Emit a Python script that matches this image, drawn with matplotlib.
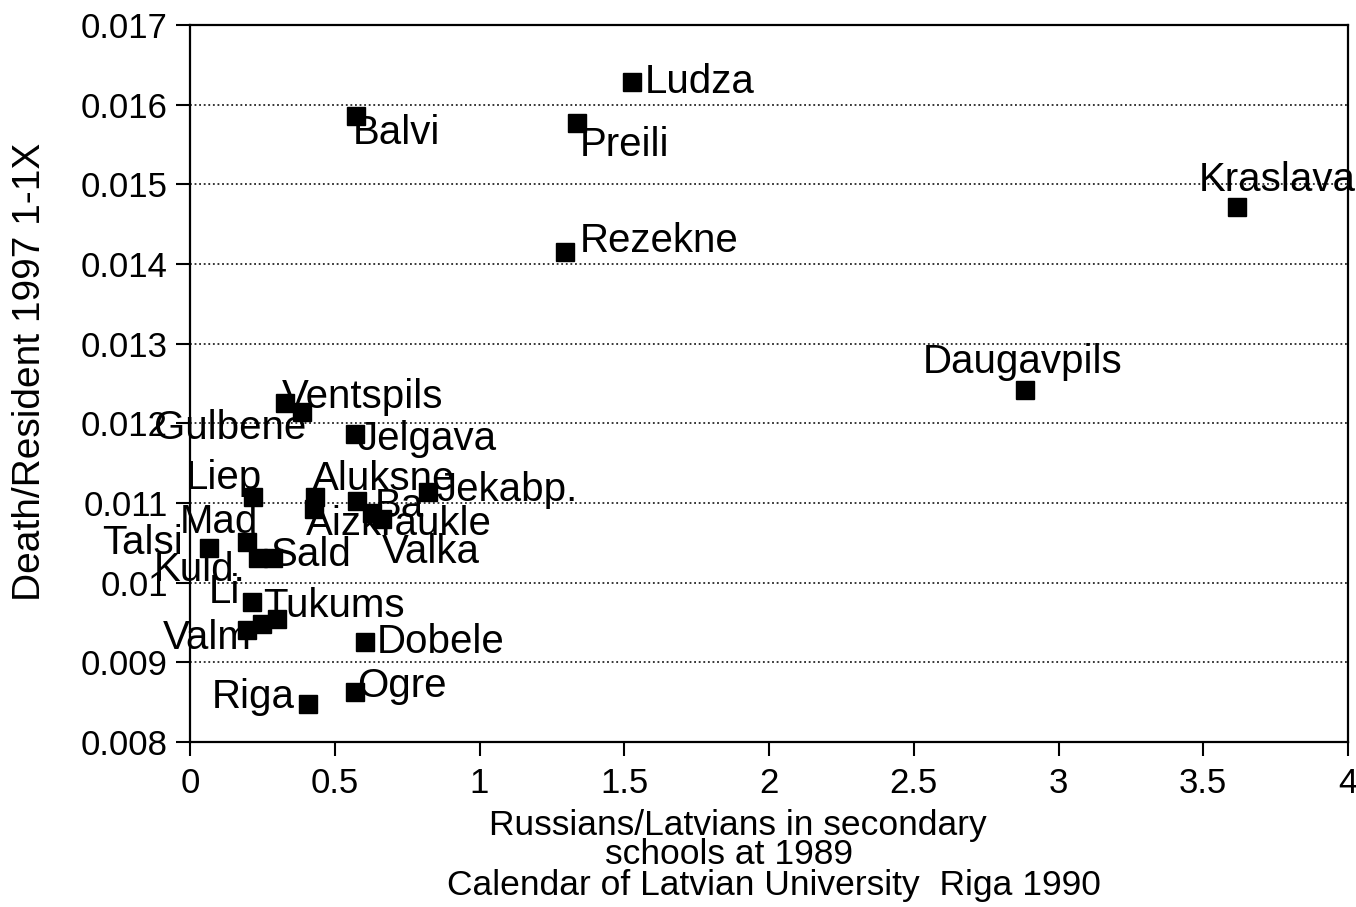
import matplotlib.pyplot as plt
from matplotlib.ticker import FuncFormatter

plt.rcParams['font.family'] = ['Liberation Sans', 'DejaVu Sans']

# districts of Latvia: school ratio vs. death rate
names = ['Ludza', 'Balvi', 'Preili', 'Kraslava', 'Rezekne', 'Daugavpils',
         'Ventspils', 'Gulbene', 'Jelgava', 'Liep', 'Aluksne', 'Aizkraukle',
         'Jekabp.', 'Ba', 'Valka', '', 'Mad', 'Talsi', 'Sald', 'Kuld.',
         'Li', 'Tukums', 'Valm', '', 'Dobele', 'Riga', 'Ogre']
russ_lat = [1.527, 0.573, 1.337, 3.617, 1.295, 2.884,
            0.328, 0.387, 0.570, 0.218, 0.432, 0.428,
            0.822, 0.576, 0.663, 0.630, 0.197, 0.066, 0.287, 0.235,
            0.214, 0.301, 0.197, 0.249, 0.604, 0.408, 0.570]
death = [0.01628, 0.01586, 0.01577, 0.01472, 0.01415, 0.01242,
         0.01226, 0.01214, 0.01186, 0.01108, 0.01107, 0.01092,
         0.01114, 0.01103, 0.01080, 0.01088, 0.01051, 0.01044, 0.01031, 0.01031,
         0.00976, 0.00954, 0.00941, 0.00948, 0.00926, 0.00848, 0.00863]

# label placement, pixels from the marker centre
label_pos = {
    'Ludza': (13, 0, 'left'), 'Balvi': (-3, -17, 'left'),
    'Preili': (3, -22, 'left'), 'Kraslava': (-38, 27, 'left'),
    'Rezekne': (15, 11, 'left'), 'Daugavpils': (-2, 28, 'center'),
    'Ventspils': (-3, 6, 'left'), 'Gulbene': (4, -16, 'right'),
    'Jelgava': (2, -5, 'left'), 'Liep': (9, 19, 'right'),
    'Aluksne': (-3, 18, 'left'), 'Aizkraukle': (-8, -15, 'left'),
    'Jekabp.': (8, 2, 'left'), 'Ba': (18, -5, 'left'),
    'Valka': (0, -33, 'left'), 'Mad': (11, 20, 'right'),
    'Talsi': (-26, 5, 'right'), 'Sald': (-3, 3, 'left'),
    'Kuld.': (-13, -12, 'right'), 'Li': (-12, 10, 'right'),
    'Tukums': (-14, 13, 'left'), 'Valm': (5, -8, 'right'),
    'Dobele': (12, 0, 'left'), 'Riga': (-13, 7, 'right'),
    'Ogre': (2, 6, 'left'),
}

fig = plt.figure(figsize=(13.56, 9.07), dpi=100)
ax = fig.add_axes([190/1356, 1-742/907, 1158/1356, 717/907])

ax.plot(russ_lat, death, 's', color='black', ms=13, zorder=3)

for n, xv, yv in zip(names, russ_lat, death):
    if not n:
        continue
    dx, dy, ha = label_pos[n]
    ax.annotate(n, (xv, yv), xytext=(dx, dy), textcoords='offset pixels',
                ha=ha, va='center', fontsize=29, zorder=4)

ax.set_xlim(0, 4)
ax.set_ylim(0.008, 0.017)
ax.set_xticks([0, 0.5, 1, 1.5, 2, 2.5, 3, 3.5, 4])
ax.set_yticks([0.008 + 0.001*i for i in range(10)])
ax.xaxis.set_major_formatter(FuncFormatter(lambda v, p: '%g' % v))
ax.yaxis.set_major_formatter(FuncFormatter(lambda v, p: '%g' % round(v, 3)))
ax.tick_params(axis='both', direction='out', length=10, width=1.5,
               labelsize=25, pad=6)
ax.tick_params(axis='x', pad=8)

for yv in [0.009 + 0.001*i for i in range(8)]:
    ax.axhline(yv, color='black', lw=1.1, ls=(0, (1.2, 1.8)), zorder=1)

for s in ax.spines.values():
    s.set_linewidth(1.6)

fig.text(30/1356, 1-372/907, 'Death/Resident 1997 1-1X', rotation=90,
         ha='center', va='center', fontsize=28)
fig.text(738/1356, 1-825/907, 'Russians/Latvians in secondary',
         ha='center', va='center', fontsize=25.5)
fig.text(729/1356, 1-855/907, 'schools at 1989',
         ha='center', va='center', fontsize=25.5)
fig.text(774/1356, 1-885/907, 'Calendar of Latvian University  Riga 1990',
         ha='center', va='center', fontsize=25.5)

fig.savefig('out.png', dpi=100)
